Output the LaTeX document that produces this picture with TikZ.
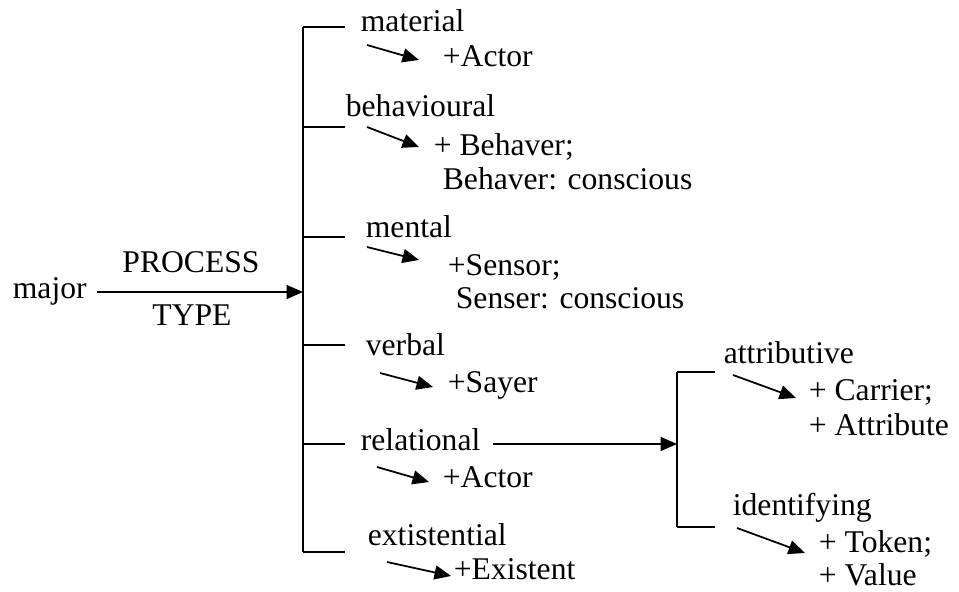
\documentclass[tikz,border=0pt]{standalone}
\usepackage{fontspec}
\setmainfont{Liberation Serif}
\usetikzlibrary{arrows.meta}
\begin{document}
\begin{tikzpicture}[x=0.02cm,y=-0.02cm,line width=1pt,
    lbl/.style={anchor=base west,inner sep=0pt,font=\fontsize{18}{21}\selectfont},
    tip/.style={-{Triangle[length=0.33cm,width=0.28cm]}}]
  \useasboundingbox (0,0) rectangle (959,591);
  %left part
  \node[lbl] (major) at (12,298) {major};
  \node[lbl,anchor=base] (process) at (191,272) {PROCESS};
  \node[lbl,anchor=base] (type) at (192,325) {TYPE};
  \coordinate (in) at (97,292);
  \coordinate (br) at (303,292);
  \draw[tip] (in) -- (br);
  %main bracket
  \coordinate (t1) at (303,27);
  \coordinate (t2) at (303,127);
  \coordinate (t3) at (303,237);
  \coordinate (t4) at (303,345);
  \coordinate (t5) at (303,444);
  \coordinate (t6) at (303,552);
  \draw (t1) -- (t6);
  \draw (t1) -- ++(42,0)
        (t2) -- ++(42,0)
        (t3) -- ++(42,0)
        (t4) -- ++(42,0)
        (t5) -- ++(42,0)
        (t6) -- ++(42,0);
  %process types
  \node[lbl] (material) at (360,32) {material};
  \node[lbl] (actor) at (442,67) {+Actor};
  \node[lbl] (behavioural) at (345,117) {behavioural};
  \node[lbl] (behaver) at (433,155) {+ Behaver;};
  \node[lbl] (behaver2) at (442,190) {Behaver: conscious};
  \node[lbl] (mental) at (365,237) {mental};
  \node[lbl] (sensor) at (447,275) {+Sensor;};
  \node[lbl] (senser) at (455,308) {Senser: conscious};
  \node[lbl] (verbal) at (365,355) {verbal};
  \node[lbl] (sayer) at (447,392) {+Sayer};
  \node[lbl] (relational) at (360,450) {relational};
  \node[lbl] (actor2) at (442,487) {+Actor};
  \node[lbl] (existential) at (367,545) {extistential};
  \node[lbl] (existent) at (453,579) {+Existent};
  %small arrows
  \coordinate (a1) at (367,45);  \coordinate (b1) at (419,60);
  \coordinate (a2) at (367,127); \coordinate (b2) at (419,147);
  \coordinate (a3) at (367,247); \coordinate (b3) at (419,260);
  \coordinate (a4) at (380,373); \coordinate (b4) at (433,387);
  \coordinate (a5) at (377,467); \coordinate (b5) at (429,482);
  \coordinate (a6) at (387,562); \coordinate (b6) at (451,576);
  \foreach \i in {1,...,6}
    \draw[tip] (a\i) -- (b\i);
  %relational bracket
  \coordinate (r0) at (493,444);
  \coordinate (r1) at (677,372);
  \coordinate (r2) at (677,527);
  \draw[tip] (r0) -- (677,444);
  \draw (r1) -- (r2);
  \draw (r1) -- ++(38,0)
        (r2) -- ++(38,0);
  \node[lbl] (attributive) at (723,363) {attributive};
  \node[lbl] (carrier) at (808,400) {+ Carrier;};
  \node[lbl] (attribute) at (808,435) {+ Attribute};
  \node[lbl] (identifying) at (732,515) {identifying};
  \node[lbl] (token) at (818,552) {+ Token;};
  \node[lbl] (value) at (818,585) {+ Value};
  \coordinate (a7) at (733,375); \coordinate (b7) at (796,398);
  \coordinate (a8) at (737,528); \coordinate (b8) at (805,553);
  \draw[tip] (a7) -- (b7);
  \draw[tip] (a8) -- (b8);
\end{tikzpicture}
\end{document}
